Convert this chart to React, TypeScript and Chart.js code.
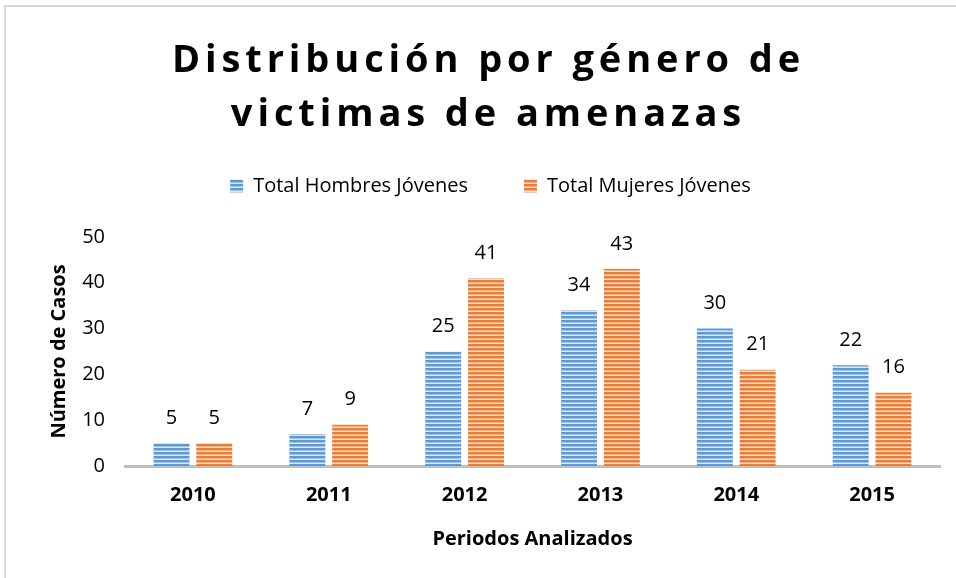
import React, { useEffect, useRef } from "react";
import { Chart, registerables } from "chart.js";

Chart.register(...registerables);

const categories = ["2010", "2011", "2012", "2013", "2014", "2015"];
const hombres = [5, 7, 25, 34, 30, 22];
const mujeres = [5, 9, 41, 43, 21, 16];
const seriesNames = ["Total Hombres Jóvenes", "Total Mujeres Jóvenes"];
const titleLines = ["Distribución por género de", "victimas de amenazas"];
const yTicks = [0, 10, 20, 30, 40, 50];

const FONT = "'Open Sans', 'Liberation Sans', sans-serif";

function makePattern(base: string, mid: string, light: string): CanvasPattern | string {
  const c = document.createElement("canvas");
  c.width = 4;
  c.height = 4;
  const x = c.getContext("2d");
  if (!x) return base;
  x.fillStyle = base;
  x.fillRect(0, 0, 4, 4);
  x.fillStyle = mid;
  x.fillRect(0, 2, 4, 1);
  x.fillStyle = light;
  x.fillRect(0, 3, 4, 1);
  const p = x.createPattern(c, "repeat");
  return p || base;
}

const valueLabels = {
  id: "valueLabels",
  afterDatasetsDraw(chart: any) {
    const ctx = chart.ctx;
    ctx.save();
    ctx.font = `20px ${FONT}`;
    ctx.fillStyle = "#000";
    ctx.textAlign = "center";
    ctx.textBaseline = "middle";
    chart.data.datasets.forEach((ds: any, i: number) => {
      const meta = chart.getDatasetMeta(i);
      meta.data.forEach((bar: any, j: number) => {
        ctx.fillText(String(ds.data[j]), bar.x, bar.y - 25);
      });
    });
    ctx.restore();
  },
};

const LEGEND_HEIGHT = 117;

const layoutTweaks = {
  id: "layoutTweaks",
  beforeLayout(chart: any) {
    const lg = chart.legend;
    if (lg && !lg.__patched) {
      const origFit = lg.fit;
      lg.fit = function (...args: any[]) {
        origFit.apply(this, args);
        this.height = LEGEND_HEIGHT;
      };
      const origDraw = lg.draw;
      lg.draw = function (...args: any[]) {
        const ctx = this.ctx;
        ctx.save();
        ctx.translate(-3, 0);
        origDraw.apply(this, args);
        ctx.restore();
      };
      lg.__patched = true;
    }
  },
  beforeDraw(chart: any) {
    const tb = chart.titleBlock;
    if (tb && !tb.__patched) {
      const orig = tb.draw;
      tb.draw = function (...args: any[]) {
        const ctx = this.ctx;
        ctx.save();
        ctx.translate(-5, 0);
        (ctx as any).letterSpacing = "4.9px";
        orig.apply(this, args);
        ctx.restore();
      };
      tb.__patched = true;
    }
  },
};

export default function App() {
  const ref = useRef<HTMLCanvasElement | null>(null);
  useEffect(() => {
    if (!ref.current) return;
    const blue = makePattern("#5B9BD5", "#9cc3e8", "#d7e7f6");
    const orange = makePattern("#ED7D31", "#f3ac7c", "#fbdcc6");
    const chart = new Chart(ref.current, {
      type: "bar",
      data: {
        labels: categories,
        datasets: [
          { label: seriesNames[0], data: hombres, backgroundColor: blue as any, borderWidth: 0 },
          { label: seriesNames[1], data: mujeres, backgroundColor: orange as any, borderWidth: 0 },
        ],
      },
      plugins: [valueLabels, layoutTweaks],
      options: {
        responsive: false,
        animation: false,
        maintainAspectRatio: false,
        layout: { padding: { left: 47, right: 16, top: 0, bottom: 27 } },
        datasets: { bar: { categoryPercentage: 0.63, barPercentage: 0.84 } },
        plugins: {
          tooltip: { enabled: false },
          title: {
            display: true,
            text: titleLines,
            color: "#000",
            font: { family: FONT, size: 38, weight: "bold", lineHeight: 1.42 },
            padding: { top: 34, bottom: -22 },
          },
          legend: {
            display: true,
            position: "top",
            labels: {
              color: "#000",
              font: { family: FONT, size: 20 },
              boxWidth: 13,
              boxHeight: 13,
              padding: 56,
            },
          },
        },
        scales: {
          x: {
            grid: { display: false, drawTicks: false },
            border: { display: true, color: "#BFBFBF", width: 3 },
            ticks: { color: "#000", font: { family: FONT, size: 20, weight: "bold" }, padding: 17 },
            title: {
              display: true,
              text: "Periodos Analizados",
              color: "#000",
              font: { family: FONT, size: 20, weight: "bold" },
              padding: { top: 3, bottom: 0 },
            },
          },
          y: {
            min: 0,
            max: 50,
            afterBuildTicks: (s: any) => {
              s.ticks = yTicks.map((v) => ({ value: v }));
            },
            afterFit: (s: any) => {
              s.width = 78;
            },
            grid: { display: false, drawTicks: false },
            border: { display: false },
            ticks: { color: "#000", font: { family: FONT, size: 20 }, padding: 20 },
            title: {
              display: true,
              text: "Número de Casos",
              color: "#000",
              font: { family: FONT, size: 20, weight: "bold" },
              padding: 0,
            },
          },
        },
      },
    });
    return () => chart.destroy();
  }, []);
  return (
    <div style={{ position: "fixed", left: 0, top: 0, width: 956, height: 578, background: "#fff", overflow: "hidden" }}>
      <div
        style={{
          position: "absolute",
          left: 4,
          top: 5,
          width: 1000,
          height: 1000,
          border: "2px solid #D9D9D9",
          boxSizing: "border-box",
        }}
      />
      <canvas ref={ref} width={956} height={578} style={{ position: "absolute", left: 0, top: 0 }} />
    </div>
  );
}
